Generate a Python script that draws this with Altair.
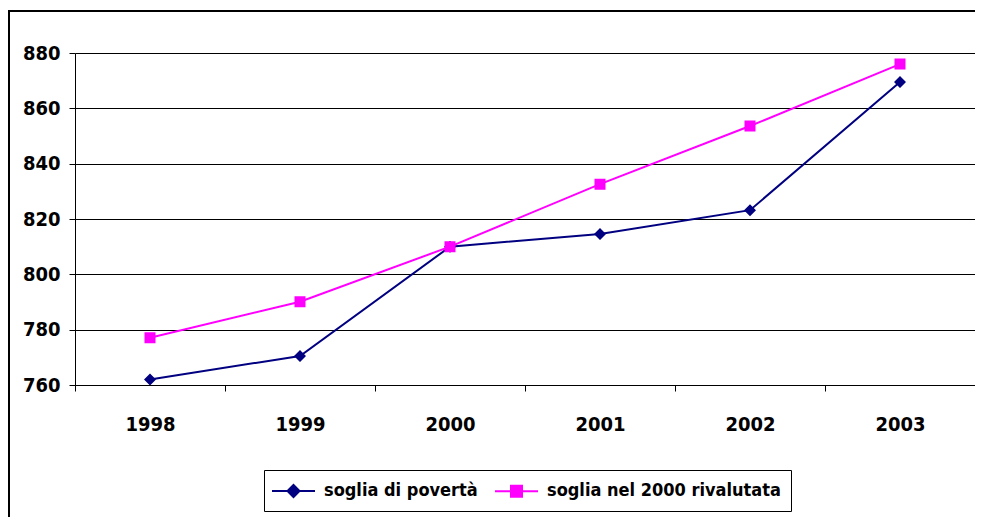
import altair as alt
import pandas as pd

years = ["1998", "1999", "2000", "2001", "2002", "2003"]
soglia_poverta = [762, 770.5, 810, 814.6, 823.2, 869.5]
soglia_rivalutata = [777.1, 790.1, 810, 832.6, 853.6, 876]
series_names = ["soglia di povertà", "soglia nel 2000 rivalutata"]
y_ticks = [760, 780, 800, 820, 840, 860, 880]

rows = []
for name, vals in zip(series_names, [soglia_poverta, soglia_rivalutata]):
    for yr, v in zip(years, vals):
        rows.append({"anno": yr, "valore": v, "serie": name})
df = pd.DataFrame(rows)

FONT = "Liberation Sans Narrow, DejaVu Sans Condensed, Arial Narrow, sans-serif"
colors = ["#000080", "#FF00FF"]
# legend glyph: line segment with the marker in its middle (marker centred at +0.85)
shapes = [
    "M-1.3,0H3.0M0.85,-0.6L1.45,0L0.85,0.6L0.25,0Z",
    "M-1.3,0H3.0M0.3,-0.55H1.4V0.55H0.3Z",
]

x_enc = alt.X(
    "anno:O",
    bandPosition=0.5,
    scale=alt.Scale(type="band", paddingInner=0, paddingOuter=0),
    axis=alt.Axis(
        title=None, labelAngle=0, tickBand="extent", tickSize=6, tickColor="black",
        domainColor="black", labelFont=FONT, labelFontSize=20, labelFontWeight="bold",
        labelPadding=23, labelColor="black",
    ),
)
y_enc = alt.Y(
    "valore:Q",
    scale=alt.Scale(domain=[760, 880], nice=False, zero=False),
    axis=alt.Axis(
        title=None, values=y_ticks, tickSize=6, tickColor="black", domainColor="black",
        gridColor="black", gridWidth=1, labelFont=FONT, labelFontSize=20,
        labelFontWeight="bold", labelPadding=9, labelColor="black",
    ),
)
color_scale = alt.Scale(domain=series_names, range=colors)
shape_scale = alt.Scale(domain=series_names, range=shapes)


def leg():
    return alt.Legend(
        title=None, orient="none", legendX=189, legendY=417, direction="horizontal",
        strokeColor="black", fillColor="white", padding=10,
        labelFont=FONT, labelFontSize=18, labelFontWeight="bold", labelColor="black",
        labelOffset=28, columnPadding=13, symbolSize=400, symbolStrokeWidth=2,
        labelLimit=400,
    )


frame = alt.Chart(pd.DataFrame({"k": [0]})).mark_rect(
    fill=None, stroke="black", strokeWidth=2, clip=False
).encode(
    x=alt.value(-66), x2=alt.value(1000), y=alt.value(-42), y2=alt.value(600)
)

line = alt.Chart(df).mark_line(strokeWidth=2).encode(
    x=x_enc, y=y_enc,
    stroke=alt.Stroke("serie:N", scale=color_scale, legend=leg()),
)

points = alt.Chart(df).mark_point(
    filled=True, size=400, strokeWidth=0, opacity=1, xOffset=-8.5
).encode(
    x=x_enc, y=y_enc,
    fill=alt.Fill("serie:N", scale=color_scale, legend=leg()),
    shape=alt.Shape("serie:N", scale=shape_scale, legend=leg()),
)

chart = alt.layer(frame, line, points).properties(
    width=900, height=332, autosize="none",
    padding={"left": 67, "top": 45, "right": 0, "bottom": 132},
).configure_view(stroke="#808080", strokeWidth=1).configure(background="white")

chart.save("out.html", embed_options={"renderer": "svg", "actions": False})
